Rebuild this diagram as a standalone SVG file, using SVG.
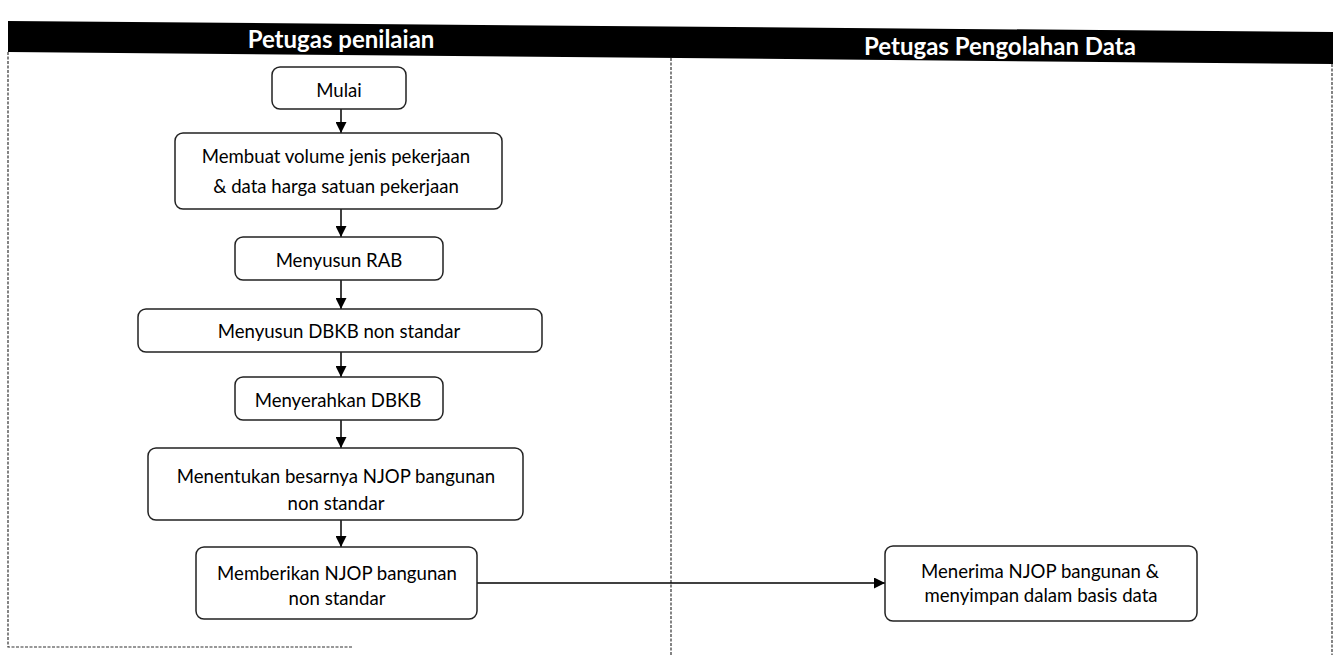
<svg xmlns="http://www.w3.org/2000/svg" width="1333" height="655" viewBox="0 0 1333 655">
<style>
.box{fill:#fff;stroke:#222;stroke-width:1.5}
.t{font-family:Lato,"Liberation Sans",sans-serif;font-size:18.6px;fill:#000;text-anchor:middle}
.h{font-family:Lato,"Liberation Sans",sans-serif;font-size:24px;font-weight:bold;fill:#fff;text-anchor:middle}
.lane{fill:none;stroke:#333;stroke-width:1.2;stroke-dasharray:3 1.5}
.c{fill:none;stroke:#000;stroke-width:1.5}
</style>
<defs>
<marker id="ah" viewBox="0 0 10 10" refX="10" refY="5" markerWidth="11" markerHeight="11" markerUnits="userSpaceOnUse" orient="auto">
<path d="M0,0 L10,5 L0,10 z" fill="#000"/>
</marker>
</defs>
<g id="lanes">
<polygon points="8,21 1333,32 1333,64 8,52" fill="#000"/>
<text class="h" x="341" y="48">Petugas penilaian</text>
<text class="h" x="1000" y="55">Petugas Pengolahan Data</text>
<path class="lane" d="M8,52 V647 H353"/>
<path class="lane" d="M671,58 V655"/>
<path class="lane" d="M1332,64 V655"/>
</g>
<g id="connectors">
<path class="c" d="M341,109 V133" marker-end="url(#ah)"/>
<path class="c" d="M341,209 V237" marker-end="url(#ah)"/>
<path class="c" d="M341,280 V309" marker-end="url(#ah)"/>
<path class="c" d="M341,352 V377" marker-end="url(#ah)"/>
<path class="c" d="M341,420 V448" marker-end="url(#ah)"/>
<path class="c" d="M341,520 V547" marker-end="url(#ah)"/>
<path class="c" d="M477,583 H885" marker-end="url(#ah)"/>
</g>
<g id="n1">
<rect class="box" x="272" y="67" width="134" height="42" rx="8"/>
<text class="t" x="339" y="97">Mulai</text>
</g>
<g id="n2">
<rect class="box" x="175" y="133" width="327" height="76" rx="8"/>
<text class="t" x="336" y="163">Membuat volume jenis pekerjaan</text>
<text class="t" x="336" y="193">&amp; data harga satuan pekerjaan</text>
</g>
<g id="n3">
<rect class="box" x="235" y="237" width="208" height="43" rx="8"/>
<text class="t" x="339" y="267">Menyusun RAB</text>
</g>
<g id="n4">
<rect class="box" x="138" y="309" width="404" height="43" rx="8"/>
<text class="t" x="339" y="338">Menyusun DBKB non standar</text>
</g>
<g id="n5">
<rect class="box" x="235" y="377" width="208" height="43" rx="8"/>
<text class="t" x="338" y="407">Menyerahkan DBKB</text>
</g>
<g id="n6">
<rect class="box" x="148" y="448" width="375" height="72" rx="8"/>
<text class="t" x="336" y="483">Menentukan besarnya NJOP bangunan</text>
<text class="t" x="336" y="510">non standar</text>
</g>
<g id="n7">
<rect class="box" x="196" y="547" width="281" height="72" rx="8"/>
<text class="t" x="337" y="580">Memberikan NJOP bangunan</text>
<text class="t" x="337" y="605">non standar</text>
</g>
<g id="n8">
<rect class="box" x="885" y="546" width="312" height="75" rx="8"/>
<text class="t" x="1040" y="578">Menerima NJOP bangunan &amp;</text>
<text class="t" x="1041" y="602">menyimpan dalam basis data</text>
</g>
</svg>
